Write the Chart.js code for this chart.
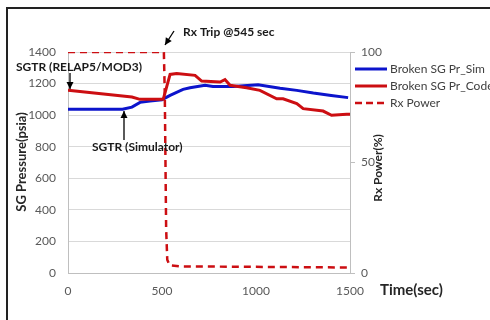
<!DOCTYPE html>
<html><head><meta charset="utf-8">
<script src="https://cdn.jsdelivr.net/npm/chart.js@4/dist/chart.umd.min.js"></script>
<style>html,body{margin:0;padding:0;background:#fff;}#wrap{position:relative;width:490px;height:320px;}</style>
</head><body><div id="wrap"><canvas id="c" width="490" height="320"></canvas></div>
<script>
// ---- data ----
const simTime = [0, 290, 340, 383, 436, 500, 543, 612, 649, 729, 771, 878, 1011, 1128, 1217, 1305, 1400, 1490];
const simPr   = [1037, 1037, 1051, 1081, 1090, 1098, 1125, 1163, 1174, 1189, 1182, 1182, 1193, 1171, 1157, 1140, 1125, 1111];
const codeTime = [0, 340, 383, 500, 507, 543, 578, 676, 711, 809, 835, 862, 950, 1021, 1110, 1144, 1217, 1251, 1357, 1402, 1482, 1500];
const codePr   = [1157, 1115, 1100, 1100, 1102, 1258, 1263, 1252, 1216, 1210, 1225, 1189, 1174, 1157, 1104, 1104, 1073, 1041, 1026, 999, 1005, 1005];
const powerTime = [0, 510, 515, 522, 528, 540, 600, 1500];
const powerVal  = [100, 100, 80, 20, 6, 3.5, 3, 2.5];
const timeTicks = [0, 500, 1000, 1500];
const pressureTicks = [0, 200, 400, 600, 800, 1000, 1200, 1400];
const powerTicks = [0, 50, 100];
const seriesNames = ['Broken SG Pr_Sim', 'Broken SG Pr_Code', 'Rx Power'];

const BLUE = '#0c14cc', RED = '#cc0e12';
const FONT = 'Lato, "Liberation Sans", sans-serif';
const pts = (xs, ys) => xs.map((x, i) => ({x, y: ys[i]}));
const plain = v => String(v);

function arrow(ctx, x1, y1, x2, y2) {
  ctx.save();
  ctx.strokeStyle = '#000'; ctx.fillStyle = '#000'; ctx.lineWidth = 1.3;
  ctx.beginPath(); ctx.moveTo(x1, y1); ctx.lineTo(x2, y2); ctx.stroke();
  const a = Math.atan2(y2 - y1, x2 - x1), L = 7, W = 3.5;
  ctx.beginPath();
  ctx.moveTo(x2, y2);
  ctx.lineTo(x2 - L*Math.cos(a) + W*Math.sin(a), y2 - L*Math.sin(a) - W*Math.cos(a));
  ctx.lineTo(x2 - L*Math.cos(a) - W*Math.sin(a), y2 - L*Math.sin(a) + W*Math.cos(a));
  ctx.closePath(); ctx.fill();
  ctx.restore();
}

const extras = {
  id: 'extras',
  afterDraw(chart) {
    const ctx = chart.ctx;
    ctx.save();
    // frame (left + top)
    ctx.strokeStyle = '#222'; ctx.lineWidth = 2;
    ctx.beginPath(); ctx.moveTo(7, 320); ctx.lineTo(7, 8); ctx.lineTo(490, 8); ctx.stroke();
    // legend
    const ly = [69, 86, 103], cols = [BLUE, RED, RED];
    ctx.font = '12px ' + FONT; ctx.textBaseline = 'middle'; ctx.textAlign = 'left';
    seriesNames.forEach((n, i) => {
      ctx.strokeStyle = cols[i]; ctx.lineWidth = i === 2 ? 2.5 : 3;
      ctx.setLineDash(i === 2 ? [7, 4] : []);
      ctx.beginPath(); ctx.moveTo(355, ly[i]); ctx.lineTo(387, ly[i]); ctx.stroke();
      ctx.setLineDash([]);
      ctx.fillStyle = '#404040'; ctx.fillText(n, 390, ly[i]);
    });
    // axis titles
    ctx.fillStyle = '#262626';
    ctx.font = 'bold 13px ' + FONT;
    ctx.save(); ctx.translate(22, 162); ctx.rotate(-Math.PI/2); ctx.textAlign = 'center'; ctx.fillText('SG Pressure(psia)', 0, 0); ctx.restore();
    ctx.font = 'bold 12px ' + FONT;
    ctx.save(); ctx.translate(378, 168); ctx.rotate(-Math.PI/2); ctx.textAlign = 'center'; ctx.fillText('Rx Power(%)', 0, 0); ctx.restore();
    ctx.font = 'bold 15px ' + FONT; ctx.textAlign = 'left';
    ctx.fillText('Time(sec)', 380, 290);
    // annotations
    ctx.font = 'bold 12px ' + FONT; ctx.fillStyle = '#1a1a1a';
    ctx.fillText('Rx Trip @545 sec', 183, 32);
    ctx.fillText('SGTR (RELAP5/MOD3)', 16, 67);
    ctx.fillText('SGTR (Simulator)', 92, 147);
    ctx.restore();
    arrow(ctx, 174, 31, 165, 45);
    arrow(ctx, 70, 73, 70, 89);
    arrow(ctx, 124, 140, 124, 111);
  }
};

Chart.defaults.font.family = FONT;
Chart.defaults.font.size = 12;
Chart.defaults.color = '#595959';

new Chart(document.getElementById('c'), {
  type: 'line',
  data: {
    datasets: [
      {label: seriesNames[0], data: pts(simTime, simPr), borderColor: BLUE, borderWidth: 3, pointRadius: 0, yAxisID: 'y', order: 2},
      {label: seriesNames[1], data: pts(codeTime, codePr), borderColor: RED, borderWidth: 3, pointRadius: 0, yAxisID: 'y', order: 1},
      {label: seriesNames[2], data: pts(powerTime, powerVal), borderColor: RED, borderWidth: 2.5, borderDash: [7, 5], pointRadius: 0, yAxisID: 'y1', order: 0}
    ]
  },
  options: {
    responsive: false, animation: false,
    layout: {padding: {top: 52, left: 0, right: 0, bottom: 0}},
    plugins: {legend: {display: false}, tooltip: {enabled: false}},
    scales: {
      x: {
        type: 'linear', min: 0, max: 1500,
        afterBuildTicks: s => { s.ticks = timeTicks.map(v => ({value: v})); },
        afterFit: s => { s.height = 47; },
        grid: {display: false, drawTicks: false},
        border: {display: true, color: '#bfbfbf', width: 1},
        ticks: {padding: 11, maxRotation: 0, callback: plain}
      },
      y: {
        position: 'left', min: 0, max: 1400,
        afterBuildTicks: s => { s.ticks = pressureTicks.map(v => ({value: v})); },
        afterFit: s => { s.width = 68; },
        grid: {color: '#d9d9d9', drawTicks: false},
        border: {display: true, color: '#bfbfbf', width: 1},
        ticks: {padding: 12, callback: plain}
      },
      y1: {
        position: 'right', min: 0, max: 100,
        afterBuildTicks: s => { s.ticks = powerTicks.map(v => ({value: v})); },
        afterFit: s => { s.width = 140; },
        grid: {drawOnChartArea: false, drawTicks: true, tickLength: 5, color: '#bfbfbf'},
        border: {display: true, color: '#bfbfbf', width: 1},
        ticks: {padding: 6, callback: plain}
      }
    }
  },
  plugins: [extras]
});
</script></body></html>
